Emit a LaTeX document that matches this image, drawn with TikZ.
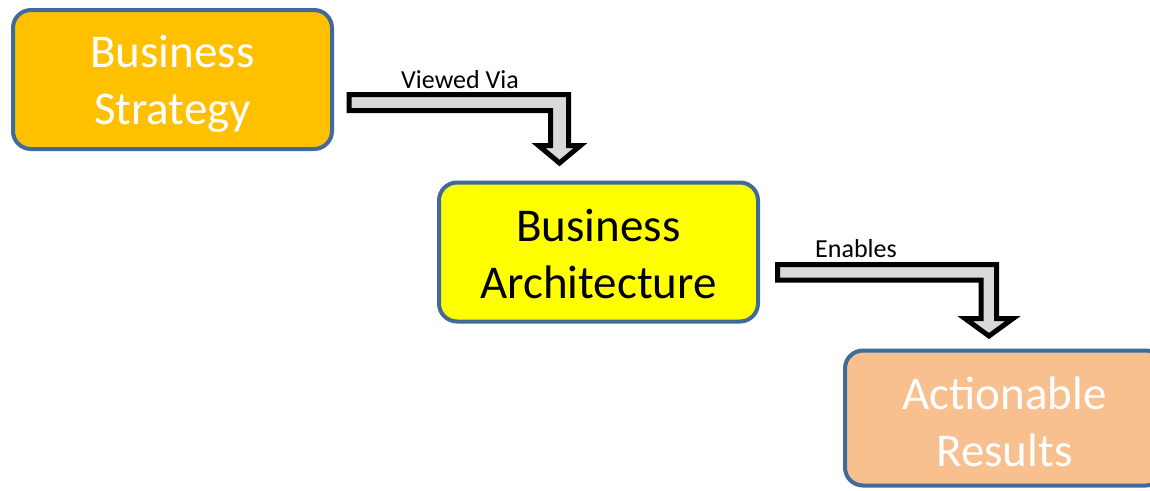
\documentclass[tikz,border=0pt]{standalone}
\usepackage{fontspec}
\setmainfont{Carlito}
\definecolor{boxblue}{HTML}{3F6A9A}
\definecolor{strat}{HTML}{FFC000}
\definecolor{archy}{HTML}{FFFF00}
\definecolor{results}{HTML}{F9C08F}
\definecolor{arrowgray}{HTML}{D9D9D9}
\begin{document}
\begin{tikzpicture}[x=1pt,y=-1pt,
  box/.style={draw=boxblue, line width=4pt, rounded corners=18pt,
    minimum width=319pt, minimum height=139pt},
  boxtext/.style={align=center, inner sep=0pt, font=\fontsize{47}{57}\selectfont},
  bent/.style={draw=black, line width=5pt, fill=arrowgray, line join=miter},
  lbl/.style={font=\fontsize{26}{30}\selectfont, anchor=base, inner sep=0pt}]
\useasboundingbox (0,0) rectangle (1150,490);
\clip (0,0) rectangle (1150,490);
\node[box, fill=strat] (strategy) at (172.5,79.5) {};
\node[boxtext, text=white] (strategytext) at ([yshift=-4pt]strategy.center) {Business\\Strategy};
\node[box, fill=archy] (arch) at (598.5,252) {};
\node[boxtext] (archtext) at ([yshift=-1.5pt]arch.center) {Business\\Architecture};
\node[box, fill=results, minimum height=135pt] (results) at (1004.5,418) {};
\node[boxtext, text=white] (resultstext) at ([yshift=-3.5pt]results.center) {Actionable\\Results};
% bent arrows
\draw[bent] (349,94.5) -- (568.5,94.5) -- (568.5,145.5) -- (580.5,145.5) -- (559.5,163)
  -- (538.5,145.5) -- (550.5,145.5) -- (550.5,110.5) -- (349,110.5) -- cycle;
\draw[bent] (777.5,264.5) -- (996.5,264.5) -- (996.5,318.5) -- (1013,318.5) -- (989,336)
  -- (965,318.5) -- (981,318.5) -- (981,280) -- (777.5,280) -- cycle;
\node[lbl] (viewed) at (460,88) {Viewed Via};
\node[lbl] (enables) at (856,257) {Enables};
\end{tikzpicture}
\end{document}
